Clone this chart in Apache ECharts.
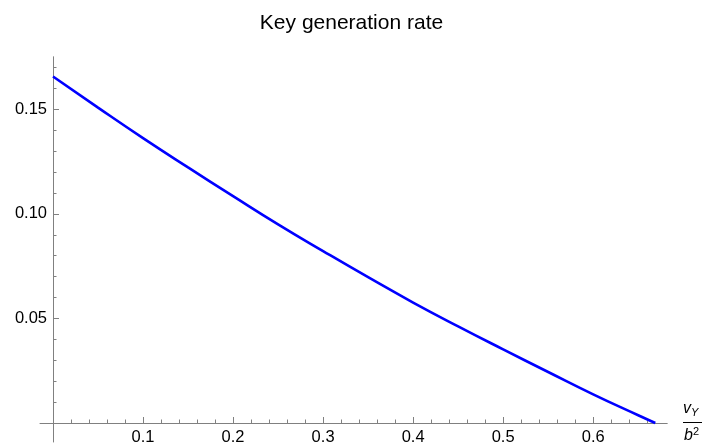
<!DOCTYPE html>
<html>
<head>
<meta charset="utf-8">
<script src="https://cdn.jsdelivr.net/npm/echarts@6/dist/echarts.min.js"></script>
<style>html,body{margin:0;padding:0;background:#fff}#c{width:703px;height:447px}</style>
</head>
<body>
<div id="c"></div>
<script>
var titleText = 'Key generation rate';
var xValues = [0, 0.05, 0.1, 0.15, 0.2, 0.25, 0.3, 0.35, 0.4, 0.45, 0.5, 0.55, 0.6, 0.65, 0.669];
var yValues = [0.1657, 0.1508, 0.1362, 0.1222, 0.1085, 0.0950, 0.0822, 0.0697, 0.0576, 0.0462, 0.0352, 0.0244, 0.0137, 0.0037, 0];
var xMajorTicks = [0.1, 0.2, 0.3, 0.4, 0.5, 0.6];
var xMajorLabels = ['0.1', '0.2', '0.3', '0.4', '0.5', '0.6'];
var xMinorTicks = [0.02, 0.04, 0.06, 0.08, 0.12, 0.14, 0.16, 0.18, 0.22, 0.24, 0.26, 0.28, 0.32, 0.34, 0.36, 0.38, 0.42, 0.44, 0.46, 0.48, 0.52, 0.54, 0.56, 0.58, 0.62, 0.64, 0.66];
var yMajorTicks = [0.05, 0.10, 0.15];
var yMajorLabels = ['0.05', '0.10', '0.15'];
var yMinorTicks = [0.01, 0.02, 0.03, 0.04, 0.06, 0.07, 0.08, 0.09, 0.11, 0.12, 0.13, 0.14, 0.16, 0.17];

var axisColor = '#808080';
var font = 'Liberation Sans, Arial, sans-serif';
var points = xValues.map(function (x, i) { return [x, yValues[i]]; });

function fmt(vals, labels) {
  return function (v) {
    for (var i = 0; i < vals.length; i++) if (Math.abs(vals[i] - v) < 1e-9) return labels[i];
    return '';
  };
}

var X_MAX = 0.682, Y_MAX = 0.175;

var chart = echarts.init(document.getElementById('c'), null, {renderer: 'canvas'});
chart.setOption({
  animation: false,
  title: {
    text: titleText, left: 'center', top: 8,
    textStyle: {fontFamily: font, fontSize: 21, fontWeight: 'normal', color: '#000'}
  },
  grid: [
    {left: 40, right: 36, top: 57, bottom: 5, containLabel: false, outerBoundsMode: 'none'},
    {left: 53, right: 36, top: 57, bottom: 24, containLabel: false, outerBoundsMode: 'none'}
  ],
  xAxis: [{
    gridIndex: 0, type: 'value', min: -0.0144, max: X_MAX, position: 'bottom',
    axisLine: {show: true, onZero: true, lineStyle: {color: axisColor, width: 1}},
    axisTick: {show: false}, axisLabel: {show: false}, splitLine: {show: false}
  }, {
    gridIndex: 1, type: 'value', min: 0, max: X_MAX, position: 'bottom',
    axisLine: {show: true, onZero: false, lineStyle: {color: axisColor, width: 1}},
    axisTick: {show: true, inside: true, length: 6, customValues: xMajorTicks, lineStyle: {color: axisColor}},
    axisLabel: {show: true, customValues: xMajorTicks, formatter: fmt(xMajorTicks, xMajorLabels), margin: 6,
      fontFamily: font, fontSize: 16.5, color: '#000'},
    splitLine: {show: false}
  }, {
    gridIndex: 1, type: 'value', min: 0, max: X_MAX, position: 'bottom',
    axisLine: {show: false, onZero: false},
    axisTick: {show: true, inside: true, length: 3.5, customValues: xMinorTicks, lineStyle: {color: axisColor}},
    axisLabel: {show: false}, splitLine: {show: false}
  }],
  yAxis: [{
    gridIndex: 0, type: 'value', min: -0.009, max: Y_MAX, position: 'left',
    axisLine: {show: true, onZero: true, lineStyle: {color: axisColor, width: 1}},
    axisTick: {show: false}, axisLabel: {show: false}, splitLine: {show: false}
  }, {
    gridIndex: 1, type: 'value', min: 0, max: Y_MAX, position: 'left',
    axisLine: {show: true, onZero: false, lineStyle: {color: axisColor, width: 1}},
    axisTick: {show: true, inside: true, length: 6, customValues: yMajorTicks, lineStyle: {color: axisColor}},
    axisLabel: {show: true, customValues: yMajorTicks, formatter: fmt(yMajorTicks, yMajorLabels), margin: 6,
      fontFamily: font, fontSize: 16.5, color: '#000'},
    splitLine: {show: false}
  }, {
    gridIndex: 1, type: 'value', min: 0, max: Y_MAX, position: 'left',
    axisLine: {show: false, onZero: false},
    axisTick: {show: true, inside: true, length: 3.5, customValues: yMinorTicks, lineStyle: {color: axisColor}},
    axisLabel: {show: false}, splitLine: {show: false}
  }],
  series: [{
    type: 'line', data: points, smooth: true, showSymbol: false, symbol: 'none',
    xAxisIndex: 1, yAxisIndex: 1, clip: false,
    lineStyle: {color: '#0000ff', width: 2.6}
  }],
  graphic: [
    {type: 'text', left: 683, top: 401, style: {
      text: '{v|v}{s|Y}', rich: {
        v: {fontFamily: font, fontStyle: 'italic', fontSize: 16, fill: '#000'},
        s: {fontFamily: font, fontStyle: 'italic', fontSize: 11, fill: '#000', verticalAlign: 'bottom', padding: [8, 0, 0, 0]}
      }}},
    {type: 'line', shape: {x1: 683, y1: 422.5, x2: 702, y2: 422.5}, style: {stroke: '#000', lineWidth: 1}},
    {type: 'text', left: 684, top: 426, style: {
      text: '{b|b}{p|2}', rich: {
        b: {fontFamily: font, fontStyle: 'italic', fontSize: 16, fill: '#000'},
        p: {fontFamily: font, fontSize: 11, fill: '#000', verticalAlign: 'top', padding: [0, 0, 8, 0]}
      }}}
  ]
});
</script>
</body>
</html>
